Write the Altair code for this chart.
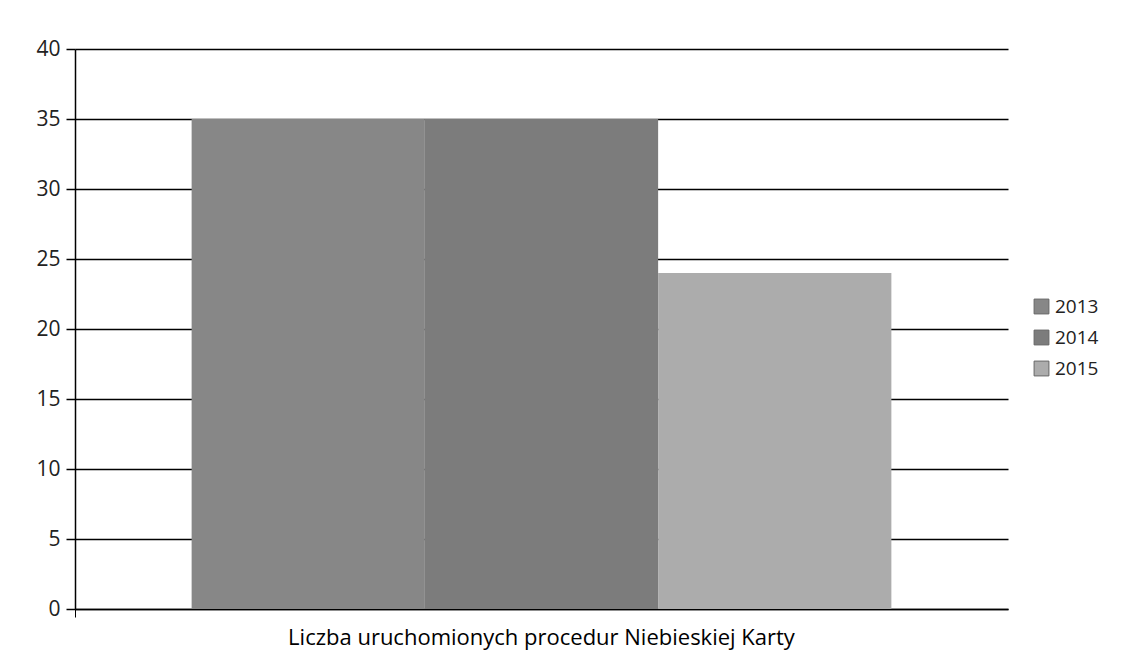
import altair as alt
import pandas as pd

category = "Liczba uruchomionych procedur Niebieskiej Karty"
years = ["2013", "2014", "2015"]
values = [35, 35, 24]
colors = ["#878787", "#7c7c7c", "#acacac"]

df = pd.DataFrame({"kat": [category] * 3, "rok": years, "wartosc": values})

chart = alt.Chart(df).mark_bar().encode(
    x=alt.X("kat:N", title=None,
            scale=alt.Scale(paddingInner=0, paddingOuter=0),
            axis=alt.Axis(labelAngle=0, labelFontSize=22, labelPadding=10, labelLimit=0,
                          ticks=True, bandPosition=0, tickSize=8, tickColor="black",
                          domainColor="black", domainWidth=1.5, labelColor="black",
                          labelFont="Open Sans")),
    xOffset=alt.XOffset("rok:N", scale=alt.Scale(paddingInner=0, paddingOuter=0.5)),
    y=alt.Y("wartosc:Q", title=None,
            scale=alt.Scale(domain=[0, 40]),
            axis=alt.Axis(values=[0, 5, 10, 15, 20, 25, 30, 35, 40], labelFontSize=21,
                          labelFont="Open Sans", labelColor="#222222",
                          tickSize=9, tickColor="black", tickWidth=1.5,
                          domainColor="black", domainWidth=1.5,
                          grid=True, gridColor="black", gridWidth=1.5, labelPadding=6)),
    color=alt.Color("rok:N", scale=alt.Scale(domain=years, range=colors),
                    legend=alt.Legend(title=None, orient="none", legendX=957, legendY=248,
                                      symbolType="square", symbolSize=220,
                                      symbolStrokeColor="#666666", symbolStrokeWidth=1,
                                      labelFontSize=19, labelFont="Open Sans",
                                      labelColor="#222222", rowPadding=11)),
).properties(
    width=933, height=560, background="white",
    padding={"left": 27, "top": 30, "right": 5, "bottom": 5},
).configure_view(stroke=None, strokeWidth=0)

chart.save("out.html", embed_options={"renderer": "svg", "actions": False})
